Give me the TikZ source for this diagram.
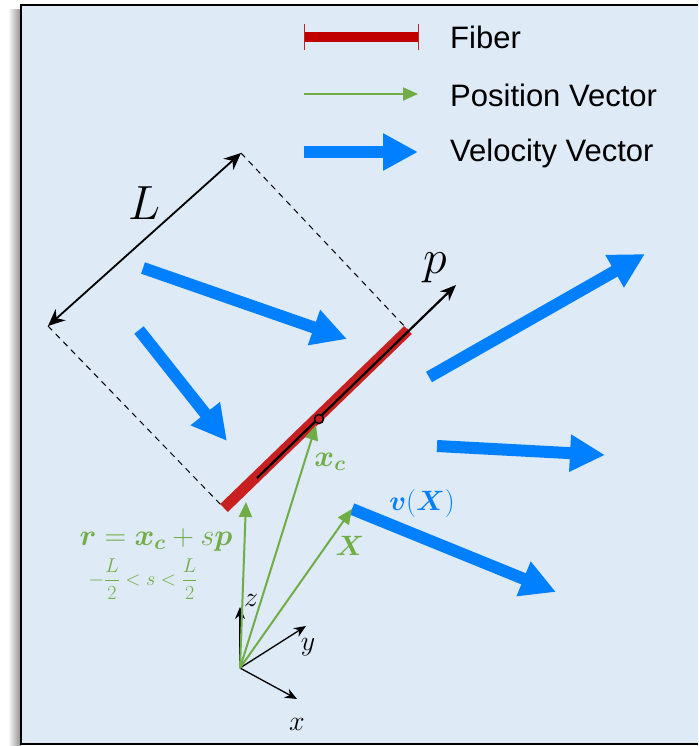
\RequirePackage{fix-cm}
\documentclass[tikz,border=0pt]{standalone}
\usepackage{amsmath, amssymb, bm}
\usepackage{fontspec}
\newfontfamily\legendfont{Liberation Sans}
\usepackage{tikz}
\usetikzlibrary{arrows.meta}
\usepackage{xcolor}
\definecolor{bgblue}{RGB}{222,234,246}
\definecolor{velblue}{RGB}{0,128,255}
\definecolor{posgreen}{RGB}{112,173,71}
\definecolor{fiberred}{RGB}{200,32,32}
\definecolor{legendred}{RGB}{192,0,0}

\tikzset{
  velocity/.style={velblue, line width=12pt, -{Triangle[length=35pt,width=35pt]}},
  position/.style={posgreen, line width=2pt, -{Triangle[length=15pt,width=13pt]}},
  fiber/.style={fiberred, line width=11pt},
  axisline/.style={black, line width=1.3pt, -{Stealth[length=12pt,width=10pt]}},
  boxline/.style={black, line width=1pt, dash pattern=on 6pt off 5pt},
  dimline/.style={black, line width=1.8pt, {Stealth[length=17pt,width=15pt]}-{Stealth[length=17pt,width=15pt]}},
  legendtext/.style={anchor=base west, inner sep=0pt, font=\legendfont\fontsize{31}{36}\selectfont},
  biglabel/.style={inner sep=0pt, font=\fontsize{48}{54}\selectfont},
  greenlabel/.style={inner sep=0pt, text=posgreen, font=\fontsize{30}{36}\selectfont},
  axislabel/.style={inner sep=0pt, font=\fontsize{28}{32}\selectfont}
}

\begin{document}
\begin{tikzpicture}[x=1pt, y=-1pt]
    \useasboundingbox (0,0) rectangle (698,746);
    \shade[left color=white, right color=black!45] (8,10) rectangle (21,746);
    \fill[bgblue] (21,5) rectangle (698,744);
    \draw[line width=2pt] (698,5) -- (21,5) -- (21,744) -- (698,744);

    % legend
    \draw[legendred, line width=10pt] (304,37) -- (418,37);
    \draw[fiberred, line width=1pt] (304,24) -- (304,50);
    \draw[fiberred, line width=1pt] (418,24) -- (418,50);
    \draw[position] (304,94) -- (418,94);
    \draw[velocity] (304,152) -- (418,152);
    \node[legendtext] (fibertxt) at (450,49) {Fiber};
    \node[legendtext] (postxt) at (450,107) {Position Vector};
    \node[legendtext] (veltxt) at (450,162) {Velocity Vector};

    % fiber and its box
    \coordinate (Ltop) at (241,153);
    \coordinate (Lbot) at (48,326);
    \coordinate (fibtop) at (408,330);
    \coordinate (fibbot) at (224,508);
    \coordinate (pbase) at (257,478);
    \coordinate (ptip) at (456,285);
    \coordinate (xc) at (319,419);
    \draw[boxline] (Ltop) -- (fibtop);
    \draw[boxline] (Lbot) -- (fibbot);
    \draw[dimline] (Lbot) -- (Ltop);
    \node[biglabel] (Llabel) at (144,203) {$L$};
    \draw[fiber] (fibbot) -- (fibtop);
    \draw[black, line width=2.2pt, -{Stealth[length=16pt,width=13pt]}] (pbase) -- (ptip);
    \node[biglabel] (plabel) at (435,268) {$p$};

    % velocity field
    \coordinate (va1) at (143,268);
    \coordinate (vb1) at (347,339);
    \coordinate (va2) at (139,330);
    \coordinate (vb2) at (227,441);
    \coordinate (va3) at (429,377);
    \coordinate (vb3) at (645,254);
    \coordinate (va4) at (437,446);
    \coordinate (vb4) at (605,455);
    \coordinate (X) at (352,509);
    \coordinate (vb5) at (556,592);
    \foreach \i in {1,...,4}
      \draw[velocity] (va\i) -- (vb\i);
    \draw[velocity] (X) -- (vb5);

    % position vectors and axes
    \coordinate (O) at (240,668);
    \draw[axisline] (O) -- (240,607) coordinate (zend);
    \draw[axisline] (O) -- (306,626) coordinate (yend);
    \draw[axisline] (O) -- (297,699) coordinate (xend);
    \draw[position] (O) -- (246,502);
    \draw[position] (O) -- (316,425);
    \draw[position] (O) -- (X);
    \fill[fiberred] (xc) circle (4.5);
    \draw[black, line width=1.5pt] (xc) circle (4.5);

    \node[axislabel] (zlabel) at (251,600) {$z$};
    \node[axislabel] (ylabel) at (308,647) {$y$};
    \node[axislabel] (xlabel) at (297,724) {$x$};
    \node[greenlabel] (xclabel) at (330,462) {$\bm{x}_{\bm{c}}$};
    \node[greenlabel, font=\fontsize{28}{32}\selectfont] (Xlabel) at (350,546) {$\bm{X}$};
    \node[greenlabel, text=velblue, font=\fontsize{28}{32}\selectfont] (vlabel) at (422,503) {$\bm{v}(\bm{X})$};
    \node[greenlabel, anchor=base] (rlabel) at (156,545) {$\bm{r}=\bm{x}_{\bm{c}}+s\bm{p}$};
    \node[greenlabel, font=\fontsize{20}{24}\selectfont] (slabel) at (143,579) {$-\dfrac{L}{2}<s<\dfrac{L}{2}$};
  \end{tikzpicture}
\end{document}
